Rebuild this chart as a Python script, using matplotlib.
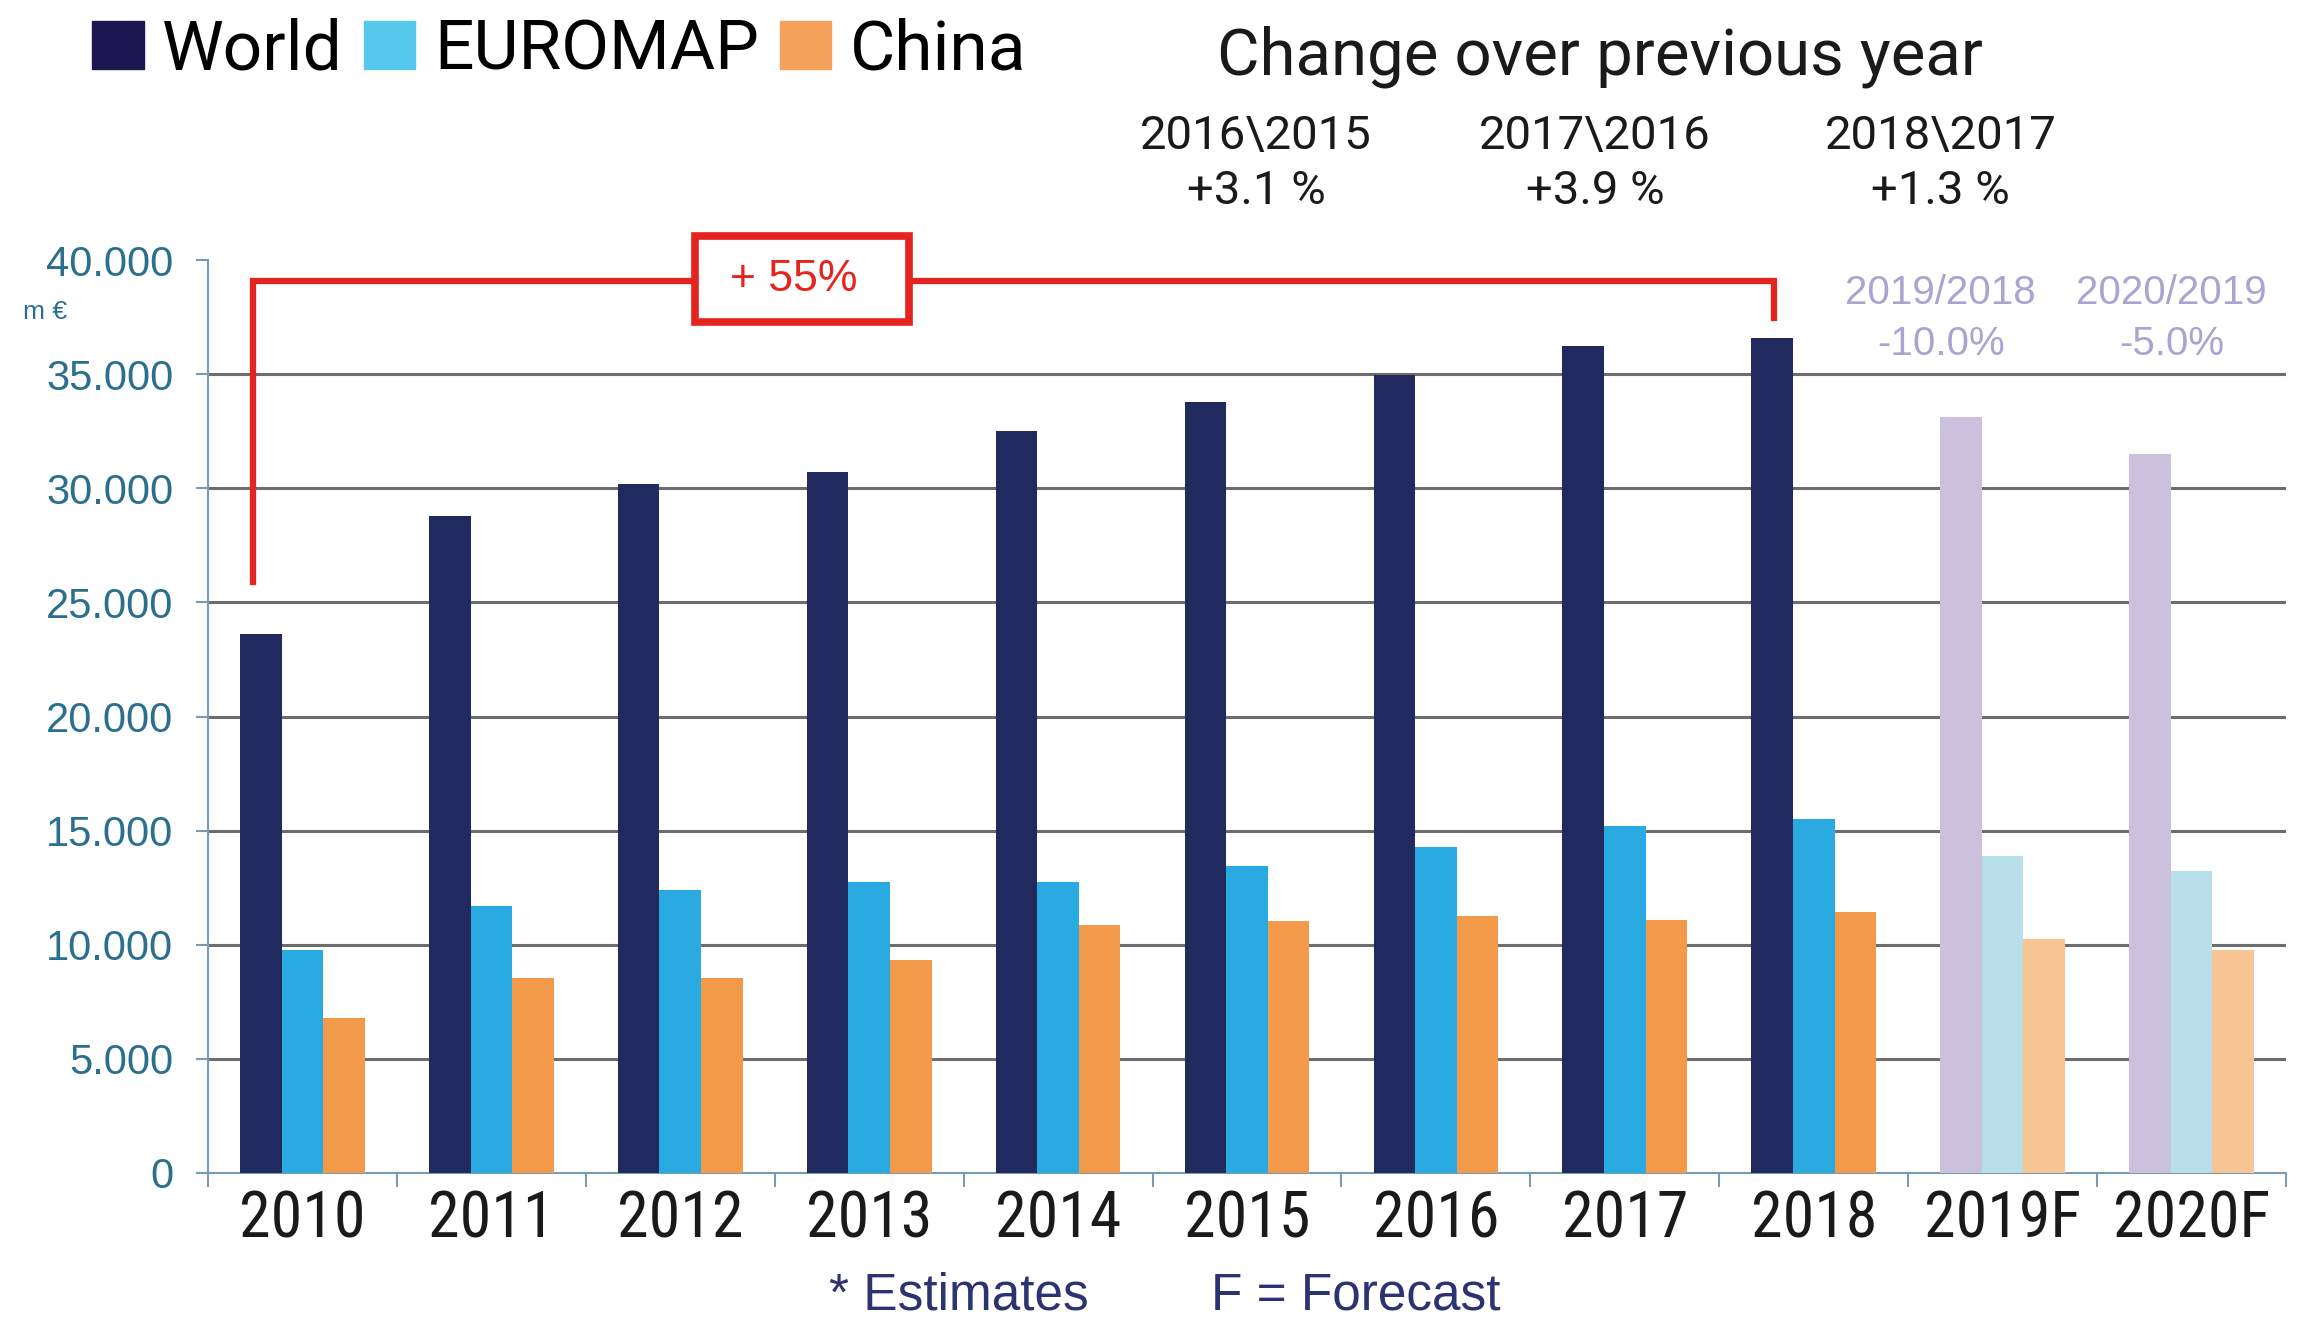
#bar chart of world, EUROMAP and China machinery turnover 2010-2020F

import matplotlib
matplotlib.use('Agg')
import matplotlib.pyplot as plt
from matplotlib import font_manager
from matplotlib.patches import Patch, Rectangle
import numpy as np

#data (m EUR)
years = ['2010', '2011', '2012', '2013', '2014', '2015', '2016', '2017', '2018', '2019F', '2020F']
world = [23600, 28800, 30200, 30700, 32500, 33800, 34950, 36250, 36600, 33100, 31500]
euromap = [9750, 11700, 12400, 12750, 12750, 13450, 14300, 15200, 15500, 13900, 13250]
china = [6800, 8550, 8550, 9350, 10850, 11050, 11250, 11100, 11450, 10250, 9750]
forecast = [False] * 9 + [True, True]

yticks = [0, 5000, 10000, 15000, 20000, 25000, 30000, 35000, 40000]
ytick_labels = ['0', '5.000', '10.000', '15.000', '20.000', '25.000', '30.000', '35.000', '40.000']

changes = [('2016\\2015', '+3.1 %'), ('2017\\2016', '+3.9 %'), ('2018\\2017', '+1.3 %')]
fc_changes = [('2019/2018', '-10.0%'), ('2020/2019', '-5.0%')]

#colours
c_world, c_euro, c_china = '#212a5e', '#29abe2', '#f39a4a'
f_world, f_euro, f_china = '#cbc1dd', '#b8dfe9', '#f8c493'
red = '#e5231f'
teal = '#2b6f8f'
lav = '#a9a4d2'

#pick a narrow font for the year labels if one is there
names = {f.name for f in font_manager.fontManager.ttflist}
narrow = next((n for n in ['Liberation Sans Narrow', 'Roboto Condensed'] if n in names), 'Roboto')
arial = 'Liberation Sans'
square = 'Roboto'

fig = plt.figure(figsize=(23.05, 13.23), dpi=100)
ax = fig.add_axes([208 / 2305, 1 - 1173 / 1323, (2286 - 208) / 2305, (1173 - 260) / 1323])

x = np.arange(len(years))
w = 0.22
ax.bar(x - w, world, w, color=[f_world if f else c_world for f in forecast], zorder=3)
ax.bar(x, euromap, w, color=[f_euro if f else c_euro for f in forecast], zorder=3)
ax.bar(x + w, china, w, color=[f_china if f else c_china for f in forecast], zorder=3)

ax.set_xlim(-0.5, len(years) - 0.5)
ax.set_ylim(0, 40000)

#gridlines at 5000..35000 only
for g in yticks[1:-1]:
    ax.axhline(g, color='#6d6d6d', lw=2.2, zorder=1)

for s in ['top', 'right']:
    ax.spines[s].set_visible(False)
for s in ['left', 'bottom']:
    ax.spines[s].set_color('#7a9bb0')
    ax.spines[s].set_linewidth(1.5)

ax.set_yticks(yticks)
ax.set_yticklabels(ytick_labels, fontsize=30, color=teal, family=arial)
ax.tick_params(axis='y', length=9, width=1.5, color='#7a9bb0', pad=16)

ax.set_xticks(x)
ax.set_xticklabels(years, fontsize=46, color='#1a1a1a', family=narrow)
ax.set_xticks(np.arange(len(years) + 1) - 0.5, minor=True)
ax.tick_params(axis='x', which='major', length=0, pad=11)
ax.tick_params(axis='x', which='minor', length=10, width=1.5, color='#7a9bb0')

#red +55% bracket
ax.plot([-0.26, -0.26, 7.79, 7.79], [25900, 39100, 39100, 37450], color=red, lw=4.5,
        solid_joinstyle='miter', clip_on=False, zorder=4)
ax.add_patch(Rectangle((2.08, 37300), 1.13, 3750, facecolor='white', edgecolor=red,
                       lw=5.5, clip_on=False, zorder=5))
ax.text(2.6, 39150, '+ 55%', color=red, fontsize=32, family=arial, ha='center', va='center',
        zorder=6, clip_on=False)

#legend
handles = [Patch(color='#1b1650'), Patch(color='#55c8ec'), Patch(color='#f6a25c')]
fig.legend(handles, ['World', 'EUROMAP', 'China'], loc='center left', bbox_to_anchor=(0.04, 0.962),
           ncol=3, frameon=False, borderaxespad=0, borderpad=0, handlelength=0.74, handleheight=0.69,
           handletextpad=0.27, columnspacing=0.3, prop={'family': square, 'size': 50})

#change over previous year
fig.text(0.694, 0.944, 'Change over previous year', fontsize=47, family=square, ha='center',
         va='baseline', color='#1a1a1a')
for xc, (a, b) in zip([0.545, 0.692, 0.842], changes):
    fig.text(xc, 0.887, a, fontsize=34, family=square, ha='center', va='baseline', color='#1a1a1a')
    fig.text(xc, 0.846, b, fontsize=34, family=square, ha='center', va='baseline', color='#1a1a1a')
for xc, (a, b) in zip([0.842, 0.942], fc_changes):
    fig.text(xc, 0.770, a, fontsize=29, family=arial, ha='center', va='baseline', color=lav)
    fig.text(xc, 0.732, b, fontsize=29, family=arial, ha='center', va='baseline', color=lav)

fig.text(0.0195, 0.764, 'm €', fontsize=19, family=arial, ha='center', va='center', color=teal)

#footnotes
fig.text(0.416, 0.01, '* Estimates', fontsize=37, family=arial, ha='center', va='baseline', color='#2b3370')
fig.text(0.588, 0.01, 'F = Forecast', fontsize=37, family=arial, ha='center', va='baseline', color='#2b3370')

fig.savefig('out.png', dpi=100)
